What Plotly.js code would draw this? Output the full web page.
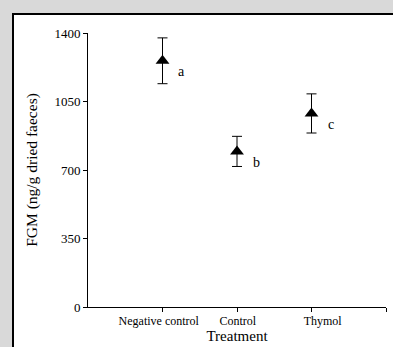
<!DOCTYPE html>
<html>
<head>
<meta charset="utf-8">
<script src="https://cdn.plot.ly/plotly-3.0.1.min.js"></script>
<style>
html,body{margin:0;padding:0;background:#d9d9d9;overflow:hidden;width:393px;height:347px;}
#panel{position:absolute;left:12px;top:13px;width:400px;height:400px;background:#fff;border-left:2px solid #000;border-top:2px solid #000;}
#chart{position:absolute;left:0;top:0;width:393px;height:347px;}
#edge{position:absolute;left:389px;top:15px;width:10px;height:340px;background:#fff;}
</style>
</head>
<body>
<div id="panel"></div>
<div id="chart"></div>
<div id="edge"></div>
<script>
var categories = ['Negative control', 'Control', 'Thymol'];
var positions = [1, 2, 3];
var labelPositions = [0.95, 2.01, 3.15];
var means = [1258, 795, 989];
var errors = [117, 77, 100];
var letters = ['a', 'b', 'c'];
var yTicks = [0, 350, 700, 1050, 1400];

var font = 'Liberation Serif, Times New Roman, serif';

var trace = {
  x: positions,
  y: means,
  type: 'scatter',
  mode: 'markers',
  marker: {symbol: 'triangle-up', size: 12, color: '#000'},
  error_y: {type: 'data', array: errors, visible: true, color: '#000', thickness: 1, width: 5},
  showlegend: false,
  hoverinfo: 'skip'
};

var annotations = letters.map(function (t, i) {
  return {x: positions[i], y: means[i], xref: 'x', yref: 'y', text: t, showarrow: false,
    xshift: 19, yshift: -11, font: {family: font, size: 14, color: '#000'}};
});

var layout = {
  width: 393, height: 347,
  margin: {l: 88, r: 7, t: 33, b: 40},
  paper_bgcolor: 'rgba(0,0,0,0)',
  plot_bgcolor: 'rgba(0,0,0,0)',
  font: {family: font, color: '#000'},
  xaxis: {range: [0, 4], showgrid: false, zeroline: false, showline: true, linecolor: '#000', linewidth: 1,
    ticks: 'outside', ticklen: 4, tickcolor: '#000', tickvals: [1, 2, 3, 4], showticklabels: false,
    fixedrange: true},
  xaxis2: {overlaying: 'x', side: 'bottom', anchor: 'y', range: [0, 4], showgrid: false, zeroline: false,
    showline: false, ticks: '', tickvals: labelPositions, ticktext: categories, ticklabelstandoff: 5,
    tickfont: {family: font, size: 12, color: '#000'},
    title: {text: 'Treatment', font: {family: font, size: 15, color: '#000'}, standoff: 0}},
  yaxis: {range: [0, 1400], showgrid: false, zeroline: false, showline: true, linecolor: '#000', linewidth: 1,
    ticks: 'outside', ticklen: 4, tickcolor: '#000', tickvals: yTicks,
    tickfont: {family: font, size: 13, color: '#000'},
    title: {text: 'FGM (ng/g dried faeces)', font: {family: font, size: 15.5, color: '#000'}, standoff: 12}},
  annotations: annotations
};

Plotly.newPlot('chart', [trace, {x: [], y: [], xaxis: 'x2', yaxis: 'y', type: 'scatter', showlegend: false}], layout, {displayModeBar: false, staticPlot: true});
</script>
</body>
</html>
